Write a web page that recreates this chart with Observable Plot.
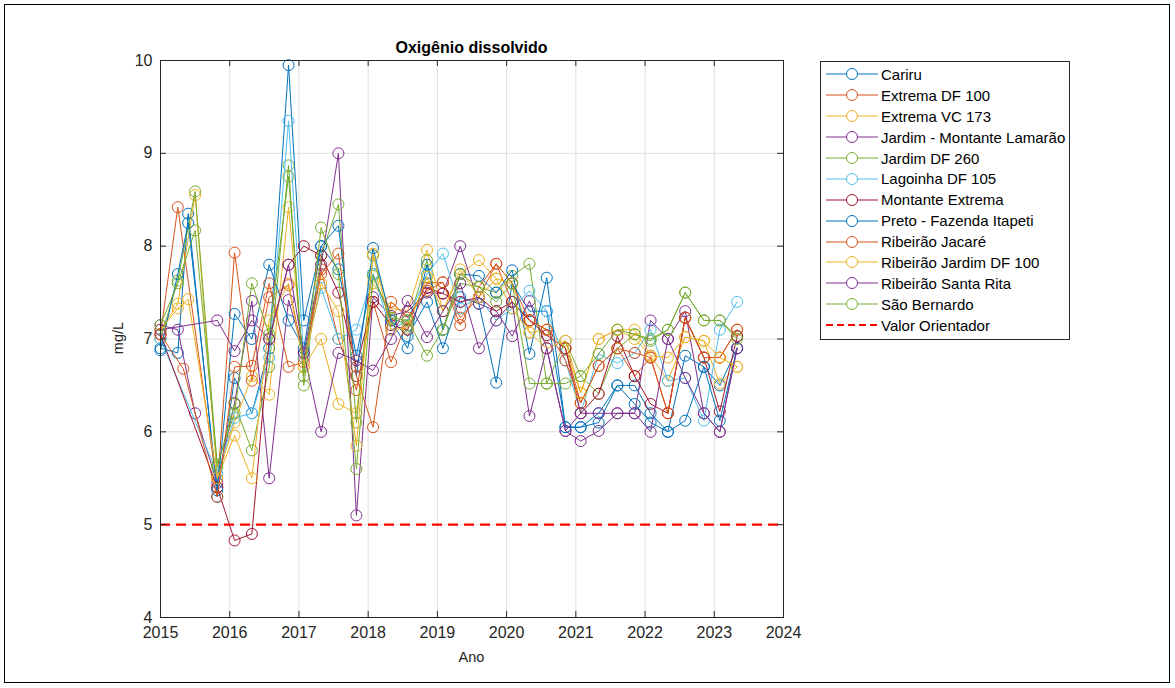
<!DOCTYPE html>
<html>
<head>
<meta charset="utf-8">
<script src="https://cdn.jsdelivr.net/npm/d3@7"></script>
<script src="https://cdn.jsdelivr.net/npm/@observablehq/plot@0.6"></script>
<style>
  body { margin: 0; background: #fff; font-family: "Liberation Sans", Arial, sans-serif; }
  #page { position: relative; width: 1175px; height: 688px; overflow: hidden; background: #fff; }
  #border { position: absolute; left: 4px; top: 4px; width: 1166px; height: 679px; border: 1px solid #000; box-sizing: border-box; pointer-events: none; }
  #chart { position: absolute; left: 0; top: 0; }
  #title { position: absolute; left: 160px; width: 623px; top: 38px; text-align: center; font-weight: bold; font-size: 16px; color: #000; line-height: 20px; }
  #xlabel { position: absolute; left: 160px; width: 623px; top: 648px; text-align: center; font-size: 14.5px; color: #262626; line-height: 18px; }
  #ylabel { position: absolute; left: 118px; top: 338px; transform: translate(-50%, -50%) rotate(-90deg); font-size: 14.5px; color: #262626; white-space: nowrap; }
  #legend { position: absolute; left: 820px; top: 61px; width: 250px; border: 1px solid #262626; box-sizing: border-box; padding: 2px 0 3px 0; background: #fff; }
  .row { height: 20.9px; display: flex; align-items: center; font-size: 15px; color: #000; white-space: nowrap; }
  .row svg { flex: 0 0 auto; margin-left: 4px; margin-right: 2px; }
</style>
</head>
<body>
<div id="page">
  <div id="chart"></div>
  <div id="title"></div>
  <div id="xlabel"></div>
  <div id="ylabel"></div>
  <div id="legend"></div>
  <div id="border"></div>
</div>
<script>
// ---------- data ----------
const titleText = "Oxigênio dissolvido";
const xLabelText = "Ano";
const yLabelText = "mg/L";
const limitLabel = "Valor Orientador";
const limitValue = [5];
const xTicks = [2015, 2016, 2017, 2018, 2019, 2020, 2021, 2022, 2023, 2024];
const yTicks = [4, 5, 6, 7, 8, 9, 10];

const dates = [2015.0, 2015.25, 2015.33, 2015.4, 2015.5, 2015.82, 2016.07, 2016.32, 2016.57, 2016.85,
  2017.07, 2017.32, 2017.57, 2017.83, 2018.07, 2018.33, 2018.57, 2018.85, 2019.08, 2019.33,
  2019.6, 2019.85, 2020.08, 2020.33, 2020.58, 2020.85, 2021.07, 2021.33, 2021.6, 2021.85,
  2022.08, 2022.33, 2022.58, 2022.85, 2023.08, 2023.33];

const seriesNames = ["Cariru", "Extrema DF 100", "Extrema VC 173", "Jardim - Montante Lamarão",
  "Jardim DF 260", "Lagoinha DF 105", "Montante Extrema", "Preto - Fazenda Itapeti",
  "Ribeirão Jacaré", "Ribeirão Jardim DF 100", "Ribeirão Santa Rita", "São Bernardo"];
const seriesColors = ["#0072BD", "#D95319", "#EDB120", "#7E2F8E", "#77AC30", "#4DBEEE", "#A2142F",
  "#0072BD", "#D95319", "#EDB120", "#7E2F8E", "#77AC30"];
const limitColor = "#FF0000";

const cariru         = [6.90, 6.85, null, 8.35, null, 5.30, 6.58, 6.20, 6.90, 9.95, 7.20, 8.00, 7.75, 6.82, 7.70, 7.20, 7.03, 7.40, 6.90, 7.45, 7.38, 6.53, 7.60, 7.30, 7.30, 6.05, 6.05, 6.20, 6.50, 6.50, 6.20, 6.00, 6.82, 6.70, 6.50, 6.90];
const extremaDF100   = [7.05, 8.42, null, null, null, 5.40, 7.93, 6.55, 7.45, 7.58, 6.80, 7.75, 7.00, 6.45, 7.40, 6.75, 7.20, 7.60, 7.61, 7.23, 7.45, 7.81, 7.40, 7.20, 7.10, 6.90, 6.31, 6.71, 6.90, 6.60, 6.80, 6.20, 7.23, 6.80, 6.80, 7.10];
const extremaVC173   = [7.10, 7.38, null, null, 8.55, 5.50, 6.10, 6.60, 6.40, 8.42, 6.70, 7.00, 6.30, 6.20, 7.60, 7.33, 7.30, 7.96, 7.30, 7.70, 7.85, 7.65, 7.60, 7.07, 7.10, 6.90, 6.42, 7.00, 7.10, 7.00, 6.82, 6.55, 7.02, 6.98, 6.52, 6.70];
const jardimMontante = [7.15, 7.10, null, null, 6.20, 5.45, 6.31, 7.41, 5.50, 7.42, 6.85, 7.80, 9.00, 5.10, 7.45, 7.25, 7.30, 7.50, 7.49, 8.00, 7.38, 7.30, 7.03, 7.41, 6.90, 6.01, 5.90, 6.01, 6.20, 6.20, 7.20, 7.00, 7.30, 6.20, 6.00, 6.90];
const jardimDF260    = [7.00, 7.63, null, null, 8.59, 5.62, 6.30, 5.80, 6.70, 8.87, 6.50, 7.90, 8.45, 6.10, 7.90, 7.23, 7.15, 7.85, 7.10, 7.60, 7.56, 7.50, 7.68, 7.81, 6.52, 6.98, 6.60, 6.41, 6.90, 7.05, 6.98, 7.10, 7.50, 7.20, 7.20, 7.03];
const lagoinhaDF105  = [7.00, null, null, null, null, 5.55, 6.15, 6.20, 6.80, 9.35, 6.80, 7.55, 7.00, 7.10, 7.70, 7.10, 7.20, 7.70, 7.92, 7.33, 7.45, 7.20, 7.33, 7.52, 7.30, 6.77, 6.20, 6.84, 6.74, 6.85, 7.10, 6.55, 6.58, 6.12, 7.10, 7.40];
const montanteExtrema= [7.05, null, null, null, null, 5.40, 4.83, 4.90, 7.00, 7.80, 8.00, 7.90, 7.50, 6.70, 7.40, 7.15, 7.10, 7.55, 7.49, 7.40, 7.45, 7.30, 7.40, 7.20, 7.04, 6.90, 6.20, 6.41, 7.03, 6.60, 6.30, 6.20, 7.23, 6.80, 6.22, 7.03];
const pretoItapeti   = [6.88, 7.70, null, 8.25, null, 5.37, 7.27, 7.00, 7.80, 7.20, 6.90, 8.00, 8.22, 6.60, 7.98, 7.20, 6.90, 7.80, 7.10, 7.70, 7.68, 7.50, 7.74, 6.84, 7.66, 6.05, 6.05, 6.10, 6.50, 6.30, 6.10, 6.00, 6.12, 6.70, 6.12, 6.90];
const ribJacare      = [7.05, null, 6.68, null, null, 5.30, 6.70, 6.71, 7.60, 6.70, 6.75, 7.70, 7.92, 6.60, 6.05, 7.40, 7.23, 7.52, 7.61, 7.15, 7.56, 7.81, 7.60, 7.20, 7.10, 6.77, 6.31, 6.71, 6.90, 6.85, 6.80, 6.20, 7.23, 6.80, 6.80, 7.10];
const ribJardimDF100 = [7.10, 7.33, null, 7.43, null, 5.50, 5.96, 5.50, 7.20, 7.60, 6.70, 7.60, 7.30, 5.85, 7.92, 7.10, 7.12, 7.67, 7.30, 7.75, 7.45, 7.65, 7.33, 7.07, 6.90, 6.98, 6.42, 7.00, 7.10, 7.10, 6.82, 6.80, 7.02, 6.98, 6.80, 6.70];
const ribSantaRita   = [7.10, null, null, null, null, 7.20, 6.87, 7.20, 7.00, 7.80, 6.85, 6.00, 6.85, 6.77, 6.66, 7.00, 7.41, 7.02, 7.30, 7.60, 6.90, 7.20, 7.40, 6.17, 6.90, 6.01, 6.20, 6.20, 6.20, 6.20, 6.00, 7.00, 6.58, 6.20, 6.00, 6.90];
const saoBernardo    = [7.15, 7.60, null, null, 8.17, 5.65, 6.20, 7.60, 7.05, 8.75, 6.60, 8.20, 7.70, 5.60, 7.68, 7.23, 7.20, 6.82, 7.10, 7.70, 7.56, 7.40, 7.60, 6.52, 6.52, 6.52, 6.60, 6.84, 7.10, 7.05, 7.00, 7.10, 7.50, 7.20, 7.20, 7.00];

const seriesValues = [cariru, extremaDF100, extremaVC173, jardimMontante, jardimDF260, lagoinhaDF105,
  montanteExtrema, pretoItapeti, ribJacare, ribJardimDF100, ribSantaRita, saoBernardo];

// ---------- build ----------
const W = 1175, H = 688;
const M = {top: 60, right: 392, bottom: 71, left: 160};
const innerW = W - M.left - M.right;
const innerH = H - M.top - M.bottom;
const tickLen = 6;
const axisColor = "#262626";

const seriesRows = seriesNames.map((name, i) =>
  seriesValues[i].map((v, j) => ({series: name, date: dates[j], value: v})).filter(d => d.value != null)
);

const marks = [
  Plot.gridX(xTicks, {stroke: "#dfdfdf", strokeOpacity: 1}),
  Plot.gridY(yTicks, {stroke: "#dfdfdf", strokeOpacity: 1}),
];
seriesRows.forEach((rows, i) => {
  marks.push(Plot.line(rows, {x: "date", y: "value", stroke: seriesColors[i], strokeWidth: 1}));
  marks.push(Plot.dot(rows, {x: "date", y: "value", r: 5.5, stroke: seriesColors[i], fill: "none", strokeWidth: 1}));
});
marks.push(Plot.ruleY(limitValue, {stroke: limitColor, strokeWidth: 2.2, strokeDasharray: "10,6"}));
marks.push(Plot.tickX(xTicks, {x: d => d, stroke: axisColor, insetTop: innerH - tickLen}));
marks.push(Plot.tickX(xTicks, {x: d => d, stroke: axisColor, insetBottom: innerH - tickLen}));
marks.push(Plot.tickY(yTicks, {y: d => d, stroke: axisColor, insetRight: innerW - tickLen}));
marks.push(Plot.tickY(yTicks, {y: d => d, stroke: axisColor, insetLeft: innerW - tickLen}));
marks.push(Plot.frame({stroke: axisColor, strokeWidth: 1}));

const chart = Plot.plot({
  width: W, height: H,
  marginTop: M.top, marginRight: M.right, marginBottom: M.bottom, marginLeft: M.left,
  style: {fontFamily: "'Liberation Sans', Arial, sans-serif", fontSize: "16px", color: axisColor, background: "transparent"},
  x: {domain: [xTicks[0], xTicks[xTicks.length - 1]], ticks: xTicks, tickFormat: d => String(d), tickSize: 0, tickPadding: 9, label: null},
  y: {domain: [yTicks[0], yTicks[yTicks.length - 1]], ticks: yTicks, tickFormat: d => String(d), tickSize: 0, tickPadding: 8, label: null},
  marks
});
document.getElementById("chart").appendChild(chart);

document.getElementById("title").textContent = titleText;
document.getElementById("xlabel").textContent = xLabelText;
document.getElementById("ylabel").textContent = yLabelText;

// legend
const legend = document.getElementById("legend");
const NS = "http://www.w3.org/2000/svg";
function sample(color, dashed) {
  const s = document.createElementNS(NS, "svg");
  s.setAttribute("width", 54); s.setAttribute("height", 14);
  const l = document.createElementNS(NS, "line");
  l.setAttribute("x1", 1); l.setAttribute("x2", 53); l.setAttribute("y1", 7); l.setAttribute("y2", 7);
  l.setAttribute("stroke", color);
  l.setAttribute("stroke-width", dashed ? 2.2 : 1);
  if (dashed) l.setAttribute("stroke-dasharray", "7,4");
  s.appendChild(l);
  if (!dashed) {
    const c = document.createElementNS(NS, "circle");
    c.setAttribute("cx", 27); c.setAttribute("cy", 7); c.setAttribute("r", 5.5);
    c.setAttribute("fill", "#fff"); c.setAttribute("stroke", color);
    s.appendChild(c);
  }
  return s;
}
seriesNames.forEach((name, i) => {
  const row = document.createElement("div"); row.className = "row";
  row.appendChild(sample(seriesColors[i], false));
  const t = document.createElement("span"); t.textContent = name; row.appendChild(t);
  legend.appendChild(row);
});
{
  const row = document.createElement("div"); row.className = "row";
  row.appendChild(sample(limitColor, true));
  const t = document.createElement("span"); t.textContent = limitLabel; row.appendChild(t);
  legend.appendChild(row);
}
</script>
</body>
</html>
